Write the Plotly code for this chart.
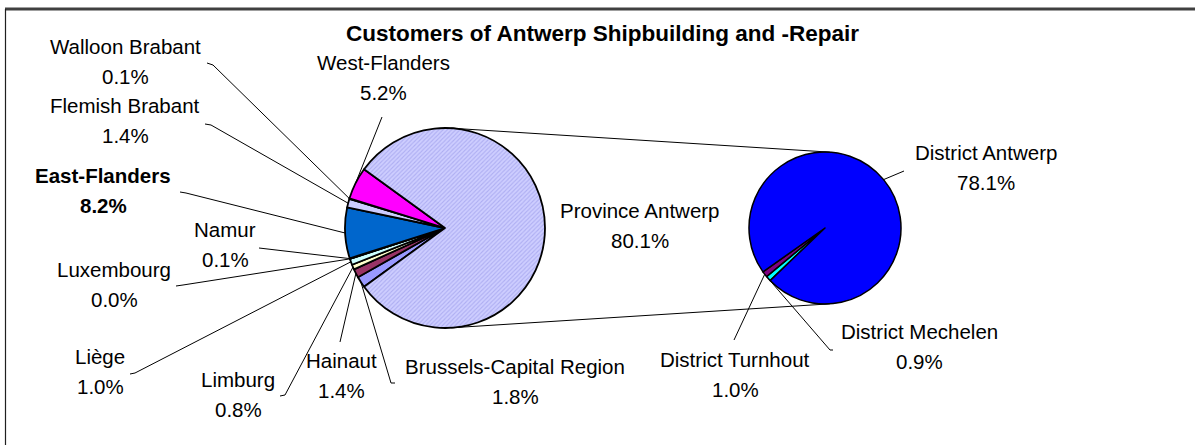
import math
import plotly.graph_objects as go

W, H = 1195, 445

# Customers by region (first pie), listed clockwise starting from the
# lower edge of the Province Antwerp slice
regions = ["Brussels-Capital Region", "Hainaut", "Limburg", "Liège", "Luxembourg",
           "Namur", "East-Flanders", "Flemish Brabant", "Walloon Brabant",
           "West-Flanders", "Province Antwerp"]
region_share = [1.8, 1.4, 0.8, 1.0, 0.0, 0.1, 8.2, 1.4, 0.1, 5.2, 80.1]

# Breakdown of Province Antwerp by district (second pie), clockwise
districts = ["District Mechelen", "District Turnhout", "District Antwerp"]
district_share = [0.9, 1.0, 78.1]

title = "Customers of Antwerp Shipbuilding and -Repair"

# ---- styling -------------------------------------------------------------
region_colors = ["#9999FF", "#993366", "#FFFFCC", "#CCFFFF", "#660066", "#FF8080",
                 "#0066CC", "#CCCCFF", "#000080", "#FF00FF", "#C8C8FC"]
n_reg = len(regions)
region_pattern = [""] * (n_reg - 1) + ["/"]
pattern_bg = region_colors[:-1] + ["#CECEFF"]
pattern_fg = region_colors[:-1] + ["#AEAEF2"]
district_colors = ["#00FFFF", "#800080", "#0000FF"]

FONT = "Liberation Sans, Arial, sans-serif"
FS = 20.5          # data label size
TITLE_FS = 22.5
LINE_GAP = 29.5    # distance between name and percentage baselines

# pie geometry in pixels (centre x, centre y, radius)
C1 = (445.0, 228.0, 100.0)
C2 = (825.0, 228.0, 76.0)
SECOND_START = 223.8   # math angle (deg, ccw from east) where the second pie starts

# label placement: centre x, baseline of name, leader-line points from the label side
label_layout = {
    "Walloon Brabant": (125, 54, [(207, 63), (213, 65)]),
    "Flemish Brabant": (125, 113, [(205, 124), (211, 125)]),
    "East-Flanders": (103, 183, [(180, 192), (186, 193)]),
    "Namur": (225, 237, [(259, 248)]),
    "Luxembourg": (114, 277, [(176, 286), (183, 285)]),
    "Liège": (100, 364, [(130, 374), (135, 373)]),
    "Limburg": (238, 387, [(280, 396), (285, 395)]),
    "Hainaut": (341, 368, [(340, 342)]),
    "Brussels-Capital Region": (515, 374, [(395, 383), (391, 383)]),
    "West-Flanders": (383, 70, [(382, 117)]),
    "Province Antwerp": (640, 218, None),
    "District Antwerp": (986, 160, [(904, 171)]),
    "District Mechelen": (919, 339, [(833, 350), (830, 350)]),
    "District Turnhout": (735, 367, [(734, 340)]),
}
bold_labels = {"East-Flanders"}


def domain_for(cx, cy, r):
    return dict(x=[(cx - r) / W, (cx + r) / W],
                y=[(H - cy - r) / H, (H - cy + r) / H])


def mid_angles(values, start):
    """Mid angle (math degrees) of each slice when laid out clockwise from start."""
    total = sum(values)
    out, a = [], start
    for v in values:
        span = v / total * 360.0
        out.append(a - span / 2.0)
        a -= span
    return out


def edge_point(circle, ang):
    cx, cy, r = circle
    return (cx + r * math.cos(math.radians(ang)), cy - r * math.sin(math.radians(ang)))


# the "other" slice is centred on the right, facing the second pie
prov_span = region_share[-1] / sum(region_share) * 360.0
first_start = 360.0 - prov_span / 2.0

fig = go.Figure()

fig.add_trace(go.Pie(
    labels=regions, values=region_share, sort=False, direction="clockwise",
    rotation=90.0 - first_start, domain=domain_for(*C1),
    marker=dict(colors=region_colors, line=dict(color="#000000", width=1.8),
                pattern=dict(shape=region_pattern, fgcolor=pattern_fg,
                             bgcolor=pattern_bg, fillmode="replace",
                             size=3, solidity=0.35)),
    textinfo="none", hoverinfo="label+value", showlegend=False,
))

fig.add_trace(go.Pie(
    labels=districts, values=district_share, sort=False, direction="clockwise",
    rotation=90.0 - SECOND_START, domain=domain_for(*C2),
    marker=dict(colors=district_colors, line=dict(color="#000000", width=1.5)),
    textinfo="none", hoverinfo="label+value", showlegend=False,
))

shapes = []
# chart frame
shapes.append(dict(type="line", x0=5, y0=9, x1=W + 5, y1=9,
                   line=dict(color="#404040", width=3)))
shapes.append(dict(type="line", x0=5.5, y0=9, x1=5.5, y1=H + 5,
                   line=dict(color="#202020", width=1.2)))

# connector lines: external tangents between the two pies
(x1c, y1c, r1), (x2c, y2c, r2) = C1, C2
d = x2c - x1c
phi = math.asin((r1 - r2) / d)
for sgn in (-1, 1):
    p = (x1c + r1 * math.sin(phi), y1c + sgn * r1 * math.cos(phi))
    q = (x2c + r2 * math.sin(phi), y2c + sgn * r2 * math.cos(phi))
    shapes.append(dict(type="line", x0=p[0], y0=p[1], x1=q[0], y1=q[1],
                       line=dict(color="#000000", width=1)))

# leader lines from labels to the slice edges
mids = dict(zip(regions, mid_angles(region_share, first_start)))
mids2 = dict(zip(districts, mid_angles(district_share, SECOND_START)))
for name, (cx, base, pts) in label_layout.items():
    if not pts:
        continue
    if name in mids:
        end = edge_point(C1, mids[name])
    else:
        end = edge_point(C2, mids2[name])
    path_pts = list(pts) + [end]
    path = "M " + " L ".join(f"{x:.1f},{y:.1f}" for x, y in path_pts)
    shapes.append(dict(type="path", path=path,
                       line=dict(color="#000000", width=1)))

annotations = []
values_by_name = dict(zip(regions, region_share))
values_by_name.update(zip(districts, district_share))


def add_text(txt, x, baseline, size, bold=False):
    if bold:
        txt = f"<b>{txt}</b>"
    annotations.append(dict(
        text=txt, x=x, y=baseline - 0.35 * size, xref="x", yref="y",
        xanchor="center", yanchor="middle", showarrow=False,
        font=dict(family=FONT, size=size, color="#000000")))


for name, (cx, base, pts) in label_layout.items():
    b = name in bold_labels
    add_text(name, cx, base, FS, b)
    add_text(f"{values_by_name[name]:.1f}%", cx, base + LINE_GAP, FS, b)

add_text(title, 602, 41, TITLE_FS, bold=True)

fig.update_layout(
    width=W, height=H, margin=dict(l=0, r=0, t=0, b=0),
    paper_bgcolor="#FFFFFF", plot_bgcolor="#FFFFFF",
    xaxis=dict(range=[0, W], visible=False, fixedrange=True),
    yaxis=dict(range=[H, 0], visible=False, fixedrange=True),
    shapes=shapes, annotations=annotations, showlegend=False,
)

fig.write_html("out.html")
